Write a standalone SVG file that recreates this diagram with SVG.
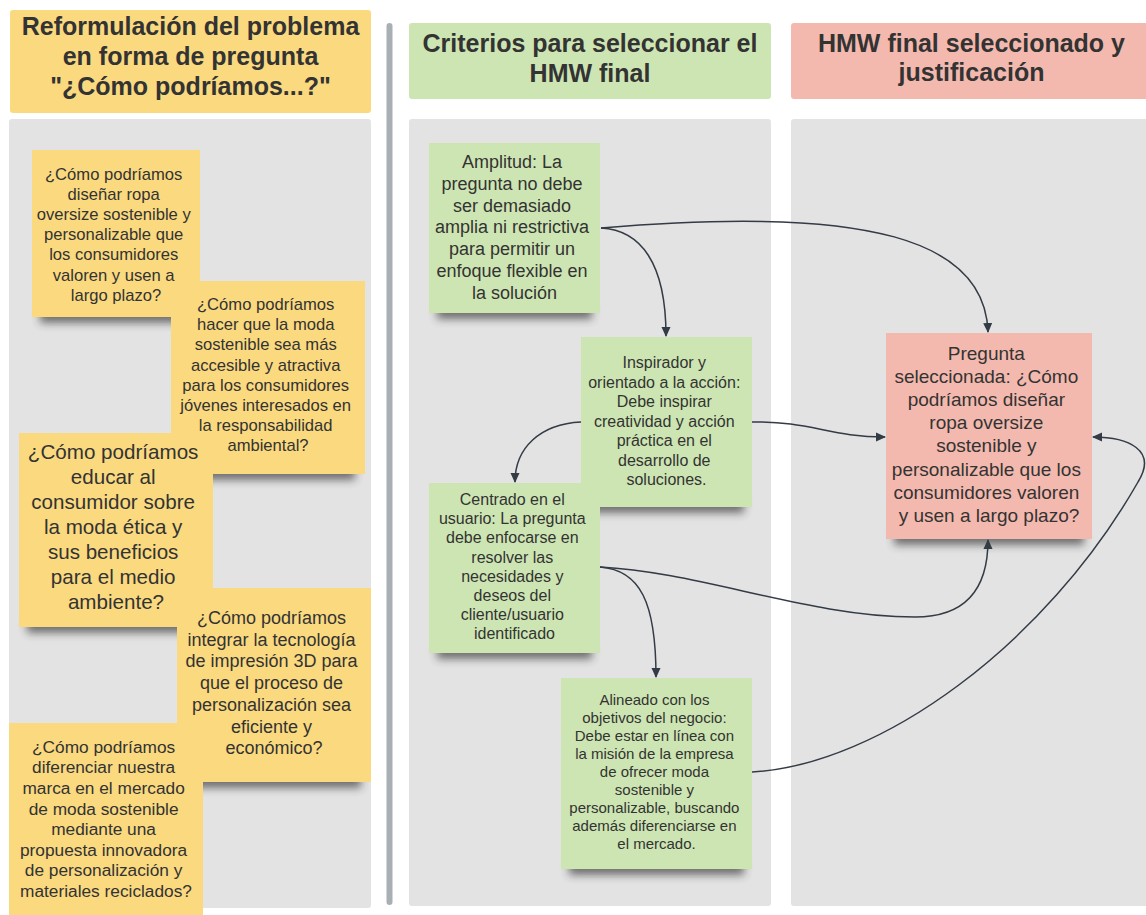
<svg xmlns="http://www.w3.org/2000/svg" width="1146" height="915" viewBox="0 0 1146 915">
<style>
.hdr{font-family:"Liberation Sans",Arial,sans-serif;font-weight:bold;font-size:25px;fill:#333;text-anchor:middle}
.t{font-family:"Liberation Sans",Arial,sans-serif;fill:#333;text-anchor:middle}
.y{fill:#fad97f}
.g{fill:#cde5b2}
.r{fill:#f4b9ae}
.panel{fill:#e3e3e3}
.sh{fill:#333;opacity:0.65;filter:url(#blur)}
.c{fill:none;stroke:#333b45;stroke-width:1.5;marker-end:url(#arr)}
</style>
<defs>
<filter id="blur" x="-20%" y="-100%" width="140%" height="300%"><feGaussianBlur stdDeviation="4"/></filter>
<marker id="arr" markerWidth="10" markerHeight="10" refX="9" refY="5" orient="auto" markerUnits="userSpaceOnUse">
<path d="M0,0.5 L10,5 L0,9.5 Z" fill="#333b45"/>
</marker>
</defs>
<rect width="1146" height="915" fill="#ffffff"/>

<g id="col1-header">
<rect x="10" y="10" width="361" height="103" rx="3" class="y"/>
<text class="hdr" x="190.5" y="35">Reformulación del problema</text>
<text class="hdr" x="190.5" y="65">en forma de pregunta</text>
<text class="hdr" x="190.5" y="95">"¿Cómo podríamos...?"</text>
</g>
<g id="col2-header">
<rect x="409" y="23" width="362" height="76" rx="3" class="g"/>
<text class="hdr" x="590" y="51.5">Criterios para seleccionar el</text>
<text class="hdr" x="590" y="81.5">HMW final</text>
</g>
<g id="col3-header">
<rect x="791" y="23" width="362" height="76" rx="3" class="r"/>
<text class="hdr" x="971.5" y="51.5">HMW final seleccionado y</text>
<text class="hdr" x="971.5" y="81">justificación</text>
</g>

<g id="panels">
<rect x="9" y="119" width="362" height="789" rx="3" class="panel"/>
<rect x="409" y="119" width="362" height="787" rx="3" class="panel"/>
<rect x="791" y="119" width="362" height="787" rx="3" class="panel"/>
<line x1="389.5" y1="26" x2="389.5" y2="902" stroke="#a9b0b3" stroke-width="6" stroke-linecap="round"/>
</g>

<g id="note1">
<rect x="40" y="307" width="150" height="16" class="sh"/>
<rect x="32" y="150" width="168" height="167" class="y"/>
<text class="t" font-size="16.6">
<tspan x="116" y="179.5">¿Cómo podríamos</tspan>
<tspan x="116" y="199.7">diseñar ropa</tspan>
<tspan x="116" y="219.9">oversize sostenible y</tspan>
<tspan x="116" y="240.1">personalizable que</tspan>
<tspan x="116" y="260.3">los consumidores</tspan>
<tspan x="116" y="280.5">valoren y usen a</tspan>
<tspan x="116" y="300.7">largo plazo?</tspan>
</text>
</g>
<g id="note2">
<rect x="179" y="464" width="176" height="16" class="sh"/>
<rect x="171" y="281" width="194" height="193" class="y"/>
<text class="t" font-size="16.6">
<tspan x="268" y="310">¿Cómo podríamos</tspan>
<tspan x="268" y="330.2">hacer que la moda</tspan>
<tspan x="268" y="350.4">sostenible sea más</tspan>
<tspan x="268" y="370.6">accesible y atractiva</tspan>
<tspan x="268" y="390.8">para los consumidores</tspan>
<tspan x="268" y="411">jóvenes interesados en</tspan>
<tspan x="268" y="431.2">la responsabilidad</tspan>
<tspan x="268" y="451.4">ambiental?</tspan>
</text>
</g>
<g id="note3">
<rect x="27" y="617" width="176" height="16" class="sh"/>
<rect x="19" y="433" width="194" height="194" class="y"/>
<text class="t" font-size="20.6">
<tspan x="116" y="459">¿Cómo podríamos</tspan>
<tspan x="116" y="484">educar al</tspan>
<tspan x="116" y="509">consumidor sobre</tspan>
<tspan x="116" y="534">la moda ética y</tspan>
<tspan x="116" y="559">sus beneficios</tspan>
<tspan x="116" y="584">para el medio</tspan>
<tspan x="116" y="609">ambiente?</tspan>
</text>
</g>
<g id="note4">
<rect x="185" y="772" width="176" height="16" class="sh"/>
<rect x="177" y="588" width="194" height="194" class="y"/>
<text class="t" font-size="18">
<tspan x="274" y="624">¿Cómo podríamos</tspan>
<tspan x="274" y="645.7">integrar la tecnología</tspan>
<tspan x="274" y="667.4">de impresión 3D para</tspan>
<tspan x="274" y="689.1">que el proceso de</tspan>
<tspan x="274" y="710.8">personalización sea</tspan>
<tspan x="274" y="732.5">eficiente y</tspan>
<tspan x="274" y="754.2">económico?</tspan>
</text>
</g>
<g id="note5">
<rect x="9" y="723" width="194" height="200" class="y"/>
<text class="t" font-size="17.3">
<tspan x="106" y="752.7">¿Cómo podríamos</tspan>
<tspan x="106" y="773.3">diferenciar nuestra</tspan>
<tspan x="106" y="793.9">marca en el mercado</tspan>
<tspan x="106" y="814.5">de moda sostenible</tspan>
<tspan x="106" y="835.1">mediante una</tspan>
<tspan x="106" y="855.7">propuesta innovadora</tspan>
<tspan x="106" y="876.3">de personalización y</tspan>
<tspan x="106" y="896.9">materiales reciclados?</tspan>
</text>
</g>

<g id="crit-amplitud">
<rect x="437" y="303" width="155" height="16" class="sh"/>
<rect x="429" y="143" width="171" height="170" class="g"/>
<text class="t" font-size="18">
<tspan x="514.5" y="168.3">Amplitud: La</tspan>
<tspan x="514.5" y="190">pregunta no debe</tspan>
<tspan x="514.5" y="211.7">ser demasiado</tspan>
<tspan x="514.5" y="233.4">amplia ni restrictiva</tspan>
<tspan x="514.5" y="255.1">para permitir un</tspan>
<tspan x="514.5" y="276.8">enfoque flexible en</tspan>
<tspan x="514.5" y="298.5">la solución</tspan>
</text>
</g>
<g id="crit-inspirador">
<rect x="589" y="497" width="155" height="16" class="sh"/>
<rect x="581" y="337" width="171" height="170" class="g"/>
<text class="t" font-size="16">
<tspan x="666.5" y="368.3">Inspirador y</tspan>
<tspan x="666.5" y="387.75">orientado a la acción:</tspan>
<tspan x="666.5" y="407.2">Debe inspirar</tspan>
<tspan x="666.5" y="426.65">creatividad y acción</tspan>
<tspan x="666.5" y="446.1">práctica en el</tspan>
<tspan x="666.5" y="465.55">desarrollo de</tspan>
<tspan x="666.5" y="485">soluciones.</tspan>
</text>
</g>
<g id="crit-centrado">
<rect x="437" y="643" width="155" height="16" class="sh"/>
<rect x="429" y="483" width="171" height="170" class="g"/>
<text class="t" font-size="16">
<tspan x="514.5" y="505">Centrado en el</tspan>
<tspan x="514.5" y="524.2">usuario: La pregunta</tspan>
<tspan x="514.5" y="543.4">debe enfocarse en</tspan>
<tspan x="514.5" y="562.6">resolver las</tspan>
<tspan x="514.5" y="581.8">necesidades y</tspan>
<tspan x="514.5" y="601">deseos del</tspan>
<tspan x="514.5" y="620.2">cliente/usuario</tspan>
<tspan x="514.5" y="639.4">identificado</tspan>
</text>
</g>
<g id="crit-alineado">
<rect x="569" y="859" width="175" height="16" class="sh"/>
<rect x="561" y="678" width="191" height="191" class="g"/>
<text class="t" font-size="15">
<tspan x="656.5" y="705">Alineado con los</tspan>
<tspan x="656.5" y="723">objetivos del negocio:</tspan>
<tspan x="656.5" y="741">Debe estar en línea con</tspan>
<tspan x="656.5" y="759">la misión de la empresa</tspan>
<tspan x="656.5" y="777">de ofrecer moda</tspan>
<tspan x="656.5" y="795">sostenible y</tspan>
<tspan x="656.5" y="813">personalizable, buscando</tspan>
<tspan x="656.5" y="831">además diferenciarse en</tspan>
<tspan x="656.5" y="849">el mercado.</tspan>
</text>
</g>

<g id="hmw-final">
<rect x="894" y="529" width="190" height="16" class="sh"/>
<rect x="886" y="333" width="206" height="206" class="r"/>
<text class="t" font-size="19">
<tspan x="989" y="360">Pregunta</tspan>
<tspan x="989" y="383.1">seleccionada: ¿Cómo</tspan>
<tspan x="989" y="406.2">podríamos diseñar</tspan>
<tspan x="989" y="429.3">ropa oversize</tspan>
<tspan x="989" y="452.4">sostenible y</tspan>
<tspan x="989" y="475.5">personalizable que los</tspan>
<tspan x="989" y="498.6">consumidores valoren</tspan>
<tspan x="989" y="521.7">y usen a largo plazo?</tspan>
</text>
</g>

<g id="connectors">
<path class="c" d="M601,228 C640,230 666,262 666,336"/>
<path class="c" d="M601,228 C870,205 985,240 988,332"/>
<path class="c" d="M581,422 C540,424 515,448 515,482"/>
<path class="c" d="M752,422 C810,421 830,437 885,437"/>
<path class="c" d="M600,567 C640,570 656,602 656,677"/>
<path class="c" d="M600,567 C700,572 810,617 915,617 C965,617 988,590 988,540"/>
<path class="c" d="M752,772 C880,765 1045,645 1138,482 C1158,450 1128,437 1093,437"/>
</g>
</svg>
